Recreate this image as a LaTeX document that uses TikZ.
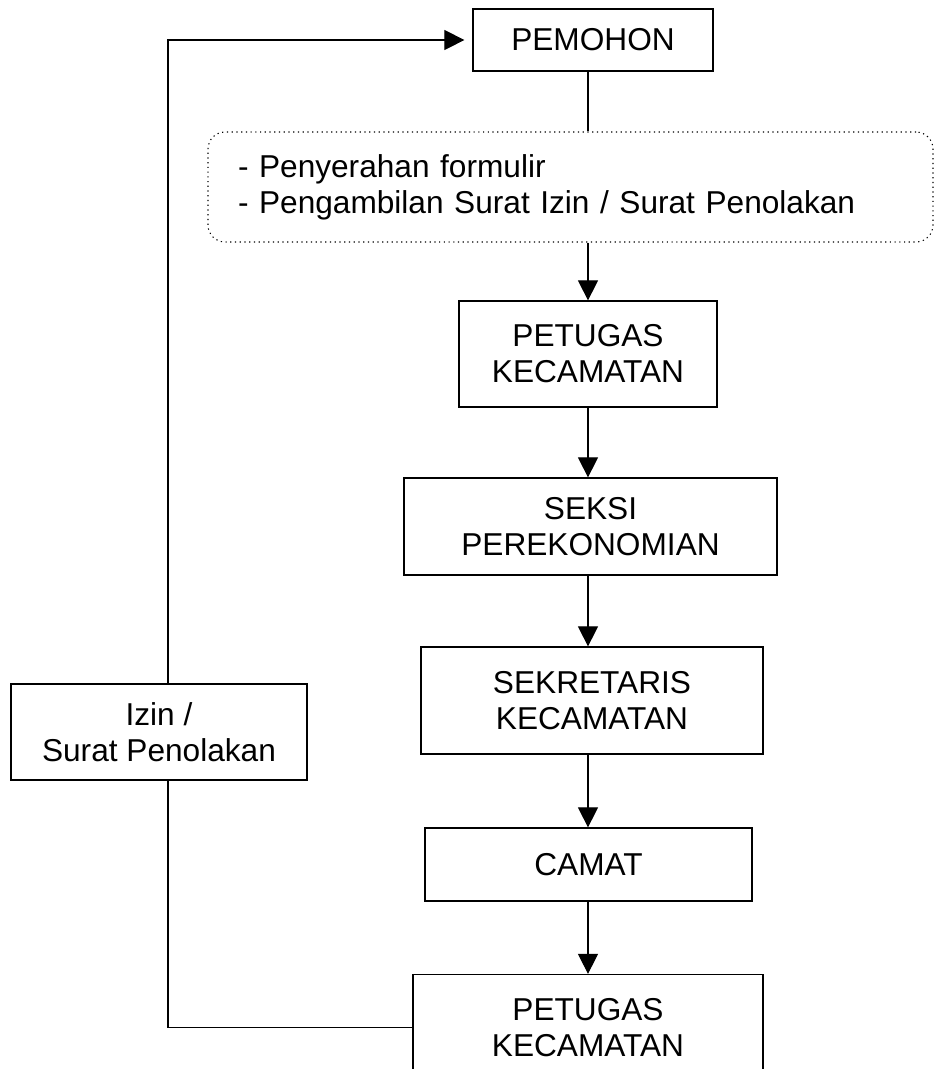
\documentclass[tikz,border=0pt]{standalone}
\usepackage{fontspec}
\setmainfont{Liberation Sans}
\usetikzlibrary{arrows.meta}

\tikzset{
	kotak/.style={draw, line width=0.7pt, align=center, inner sep=0pt,
		font=\fontsize{18}{20.5}\selectfont},
	catatan/.style={kotak, dotted, line width=0.6pt, rounded corners=0.34cm,
		align=left, text width=13.3cm, inner xsep=0.6cm, minimum height=2.2cm},
	garis/.style={line width=0.6pt},
	panah/.style={garis, -{Triangle[length=0.4cm,width=0.4cm]}},
}

\begin{document}
\begin{tikzpicture}

	\useasboundingbox (0,0) rectangle (18.68,-21.38);
	\clip (0,0) rectangle (18.68,-21.38);

	% boxes
	\node[kotak, minimum width=4.8cm, minimum height=1.24cm] (pemohon) at (11.86,-0.80) {PEMOHON};
	\node[catatan] (syarat) at (11.41,-3.74) {- Penyerahan formulir\\- Pengambilan Surat Izin / Surat Penolakan};
	\node[kotak, minimum width=5.16cm, minimum height=2.12cm] (petugas) at (11.76,-7.08) {PETUGAS\\KECAMATAN};
	\node[kotak, minimum width=7.46cm, minimum height=1.94cm] (seksi) at (11.81,-10.53) {SEKSI\\PEREKONOMIAN};
	\node[kotak, minimum width=6.84cm, minimum height=2.14cm] (sekretaris) at (11.84,-14.01) {SEKRETARIS\\KECAMATAN};
	\node[kotak, minimum width=6.54cm, minimum height=1.46cm] (camat) at (11.77,-17.29) {CAMAT};
	\node[kotak, minimum width=7.0cm, minimum height=2.12cm] (petugasakhir) at (11.76,-20.55) {PETUGAS\\KECAMATAN};
	\node[kotak, minimum width=5.92cm, minimum height=1.92cm] (izin) at (3.18,-14.64) {Izin /\\Surat Penolakan};

	% main flow
	\draw[garis] (pemohon.south -| petugas.north) -- (syarat.north -| petugas.north);
	\draw[panah] (syarat.south -| petugas.north) -- (petugas.north);
	\foreach \a/\b in {petugas/seksi, seksi/sekretaris, sekretaris/camat, camat/petugasakhir}
		\draw[panah] (\a.south -| petugas.north) -- (\b.north -| petugas.north);

	% back to applicant
	\draw[garis] (petugasakhir.west) -| ([xshift=0.18cm]izin.south);
	\draw[panah, shorten >=0.16cm] ([xshift=0.18cm]izin.north) |- (pemohon.west);

\end{tikzpicture}
\end{document}
